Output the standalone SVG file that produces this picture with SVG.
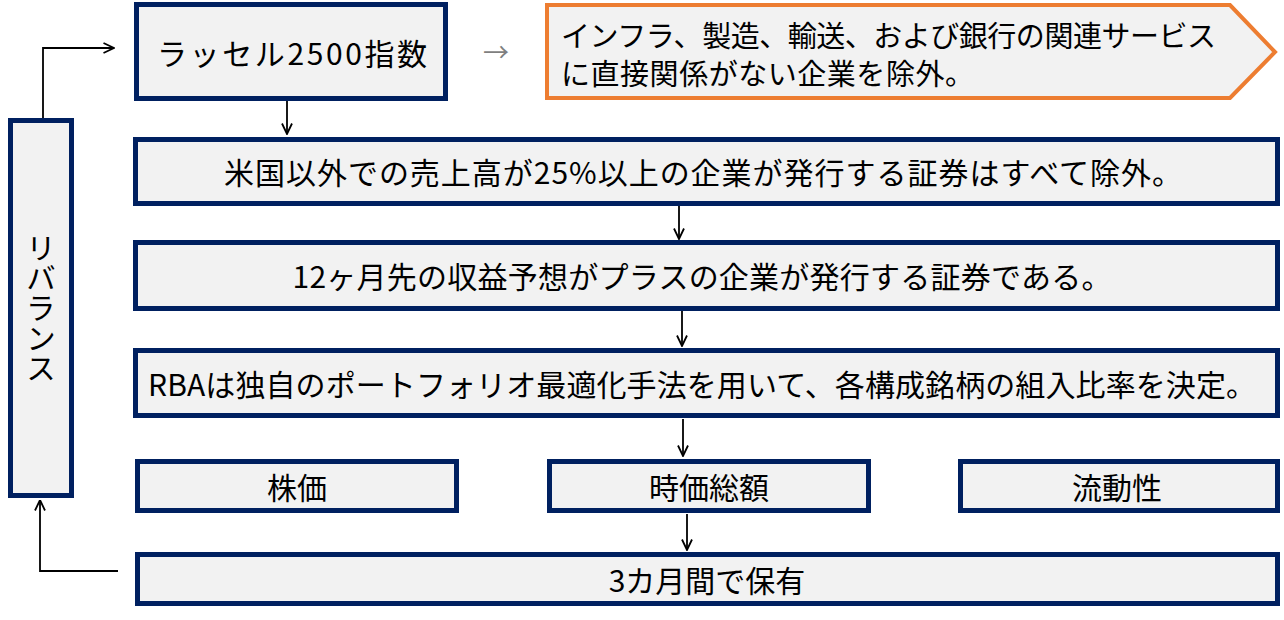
<svg xmlns="http://www.w3.org/2000/svg" width="1284" height="620" viewBox="0 0 1284 620">
<style>
.box{fill:#f2f2f2;stroke:#002060;stroke-width:5}
.orange{fill:#f2f2f2;stroke:#ed7d31;stroke-width:4;stroke-linejoin:miter}
.t{font-family:"Noto Sans CJK JP","Noto Sans",sans-serif;font-size:30px;fill:#000;text-anchor:middle;dominant-baseline:central}
.ts{font-family:"Noto Sans CJK JP","Noto Sans",sans-serif;font-size:29px;fill:#000;dominant-baseline:central}
.conn{fill:none;stroke:#000;stroke-width:1.8}
</style>
<defs>
<marker id="arr" viewBox="0 0 12 12" refX="11.5" refY="6" markerWidth="12" markerHeight="12" markerUnits="userSpaceOnUse" orient="auto">
<path d="M1,1 L11.5,6 L1,11" fill="none" stroke="#000" stroke-width="1.8"/>
</marker>
</defs>
<rect width="1284" height="620" fill="#ffffff"/>
<g id="connectors">
<path class="conn" d="M43,118 V48 H114" marker-end="url(#arr)"/>
<path class="conn" d="M287,101 V134" marker-end="url(#arr)"/>
<path class="conn" d="M679,206 V239" marker-end="url(#arr)"/>
<path class="conn" d="M682,311 V346" marker-end="url(#arr)"/>
<path class="conn" d="M683,419 V456" marker-end="url(#arr)"/>
<path class="conn" d="M687,514 V550" marker-end="url(#arr)"/>
<path class="conn" d="M118,571 H40 V500" marker-end="url(#arr)"/>
<text x="496" y="50" class="t" style="fill:#7f7f7f;font-size:26px">→</text>
</g>
<g id="rebalance">
<rect class="box" x="10.5" y="120.5" width="61" height="375"/>
<text x="41" y="308" class="t" style="writing-mode:vertical-rl;text-orientation:upright">リバランス</text>
</g>
<g id="russell">
<rect class="box" x="136.5" y="4.5" width="309" height="94"/>
<text x="292" y="52" class="t" textLength="270" lengthAdjust="spacing">ラッセル2500指数</text>
</g>
<g id="exclude-sectors">
<polygon class="orange" points="547,5 1230,5 1275,52 1230,98 547,98"/>
<text x="561" y="34" class="ts" textLength="655" lengthAdjust="spacing">インフラ、製造、輸送、および銀行の関連サービス</text>
<text x="561" y="72" class="ts" textLength="413" lengthAdjust="spacing">に直接関係がない企業を除外。</text>
</g>
<g id="non-us">
<rect class="box" x="135.5" y="139.5" width="1142" height="64"/>
<text x="703" y="171" class="t" textLength="958" lengthAdjust="spacing">米国以外での売上高が25%以上の企業が発行する証券はすべて除外。</text>
</g>
<g id="earnings">
<rect class="box" x="135.5" y="242.5" width="1142" height="66"/>
<text x="702" y="275" class="t" textLength="819" lengthAdjust="spacing">12ヶ月先の収益予想がプラスの企業が発行する証券である。</text>
</g>
<g id="optimize">
<rect class="box" x="135.5" y="350.5" width="1142" height="65"/>
<text x="702" y="383" class="t" textLength="1108" lengthAdjust="spacing">RBAは独自のポートフォリオ最適化手法を用いて、各構成銘柄の組入比率を決定。</text>
</g>
<g id="price">
<rect class="box" x="137.5" y="461.5" width="319" height="49"/>
<text x="297" y="486" class="t">株価</text>
</g>
<g id="marketcap">
<rect class="box" x="549.5" y="461.5" width="319" height="49"/>
<text x="709" y="486" class="t">時価総額</text>
</g>
<g id="liquidity">
<rect class="box" x="960.5" y="461.5" width="317" height="49"/>
<text x="1117" y="486" class="t">流動性</text>
</g>
<g id="hold">
<rect class="box" x="137.5" y="554.5" width="1140" height="49"/>
<text x="707" y="579" class="t">3カ月間で保有</text>
</g>
</svg>
